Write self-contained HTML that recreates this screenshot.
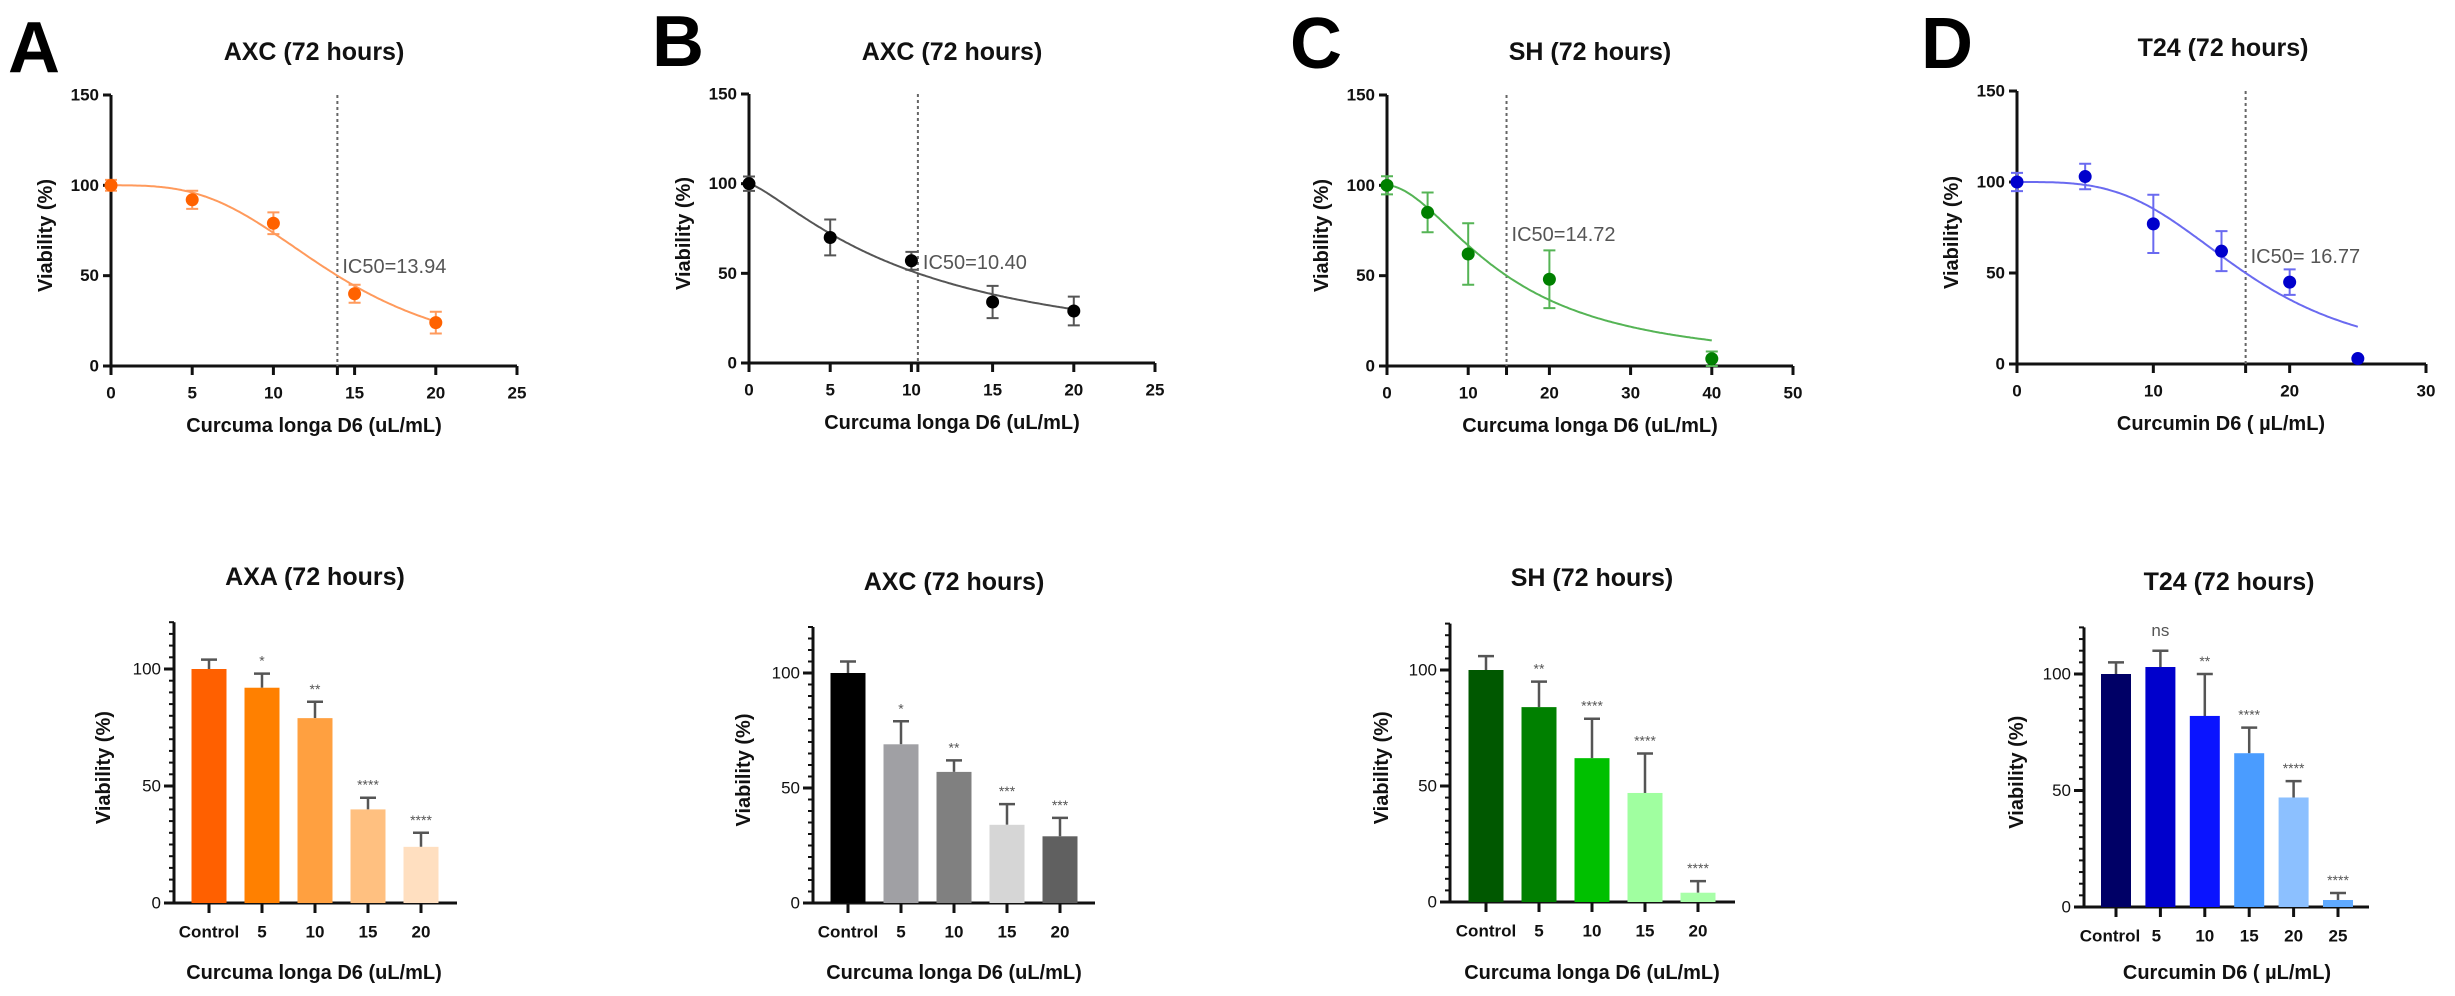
<!DOCTYPE html>
<html><head><meta charset="utf-8">
<style>
html,body{margin:0;padding:0;background:#fff;}
svg{display:block;font-family:"Liberation Sans",Arial,sans-serif;}
</style></head>
<body>
<svg id="fig" width="2455" height="996" viewBox="0 0 2455 996" xmlns="http://www.w3.org/2000/svg"></svg>
<script>
// ---------- data: dose-response panels ----------
const aDose = [0, 5, 10, 15, 20];
const aViab = [100, 92, 79, 40, 24];
const aErr  = [3, 5, 6, 5, 6];
const aIC50 = 13.94, aHill = 3.1;

const bDose = [0, 5, 10, 15, 20];
const bViab = [100, 70, 57, 34, 29];
const bErr  = [4, 10, 5, 9, 8];
const bIC50 = 10.40, bHill = 1.3;

const cDose = [0, 5, 10, 20, 40];
const cViab = [100, 85, 62, 48, 4];
const cErr  = [5, 11, 17, 16, 4];
const cIC50 = 14.72, cHill = 1.8;

const dDose = [0, 5, 10, 15, 20, 25];
const dViab = [100, 103, 77, 62, 45, 3];
const dErr  = [5, 7, 16, 11, 7, 0];
const dIC50 = 16.77, dHill = 3.4;

// ---------- data: bar panels ----------
const barCatsA = ["Control", "5", "10", "15", "20"];
const barValsA = [100, 92, 79, 40, 24];
const barErrA  = [4, 6, 7, 5, 6];
const barSigA  = ["", "*", "**", "****", "****"];

const barCatsB = ["Control", "5", "10", "15", "20"];
const barValsB = [100, 69, 57, 34, 29];
const barErrB  = [5, 10, 5, 9, 8];
const barSigB  = ["", "*", "**", "***", "***"];

const barCatsC = ["Control", "5", "10", "15", "20"];
const barValsC = [100, 84, 62, 47, 4];
const barErrC  = [6, 11, 17, 17, 5];
const barSigC  = ["", "**", "****", "****", "****"];

const barCatsD = ["Control", "5", "10", "15", "20", "25"];
const barValsD = [100, 103, 82, 66, 47, 3];
const barErrD  = [5, 7, 18, 11, 7, 3];
const barSigD  = ["", "ns", "**", "****", "****", "****"];

const NS = "http://www.w3.org/2000/svg";
const svg = document.getElementById("fig");
function el(tag, attrs, parent, text) {
  const e = document.createElementNS(NS, tag);
  for (const k in attrs) e.setAttribute(k, attrs[k]);
  if (text !== undefined) e.textContent = text;
  (parent || svg).appendChild(e);
  return e;
}

function txt(x, y, s, size, weight, anchor, fill, parent, name) {
  const t = el("text", {x: x, y: y, "font-size": size, "font-weight": weight, "text-anchor": anchor, fill: fill, "dominant-baseline": "central"}, parent, s);
  
  
  return t;
}

function curvePanel(o) {
  const g = el("g", {});
  
  
  const sx = v => o.x0 + (v - 0) / o.xmax * (o.x1 - o.x0);
  const sy = v => o.y0 - v / 150 * (o.y0 - o.y1);
  txt(o.letterX, o.letterY, o.letter, 72, "bold", "start", "#000", g, "panel-letter");
  txt(o.titleX, o.titleY, o.title, 25, "bold", "middle", "#111", g, "chart-title");
  // axes
  const ya = el("line", {x1: o.x0, y1: o.y0 + 1.5, x2: o.x0, y2: o.y1, stroke: "#111", "stroke-width": 3}, g);
  
  
  const xa = el("line", {x1: o.x0 - 8, y1: o.y0, x2: o.x1, y2: o.y0, stroke: "#111", "stroke-width": 3}, g);
  
  
  [0, 50, 100, 150].forEach(v => {
    el("line", {x1: o.x0 - 8, y1: sy(v), x2: o.x0, y2: sy(v), stroke: "#111", "stroke-width": 3}, g);
    txt(o.x0 - 12, sy(v), String(v), 17, "bold", "end", "#111", g, "y-tick-label");
  });
  o.xticks.forEach(v => {
    el("line", {x1: sx(v), y1: o.y0, x2: sx(v), y2: o.y0 + 9, stroke: "#111", "stroke-width": 3}, g);
    txt(sx(v), o.y0 + 27, String(v), 17, "bold", "middle", "#111", g, "x-tick-label");
  });
  el("line", {x1: sx(o.ic50), y1: o.y0 + 9, x2: sx(o.ic50), y2: o.y0, stroke: "#111", "stroke-width": 3}, g);
  const yl = txt(0, 0, "Viability (%)", 20, "bold", "middle", "#111", g, "y-axis-title");
  yl.setAttribute("transform", "translate(" + o.ylabX + "," + ((o.y0 + o.y1) / 2 + 5) + ") rotate(-90)");
  txt(o.xlabX, o.y0 + 60, o.xlabel, 20, "bold", "middle", "#111", g, "x-axis-title");
  // IC50 line
  const ic = el("line", {x1: sx(o.ic50), y1: o.y1, x2: sx(o.ic50), y2: o.y0, stroke: "#666", "stroke-width": 2, "stroke-dasharray": "3,3"}, g);
  
  
  txt(sx(o.ic50) + 5, o.icY, o.icText, 20, "normal", "start", "#555", g, "ic50-label");
  // fit curve
  let d = "";
  const xe = o.dose[o.dose.length - 1];
  for (let i = 0; i <= 200; i++) {
    const x = xe * i / 200;
    const y = 100 / (1 + Math.pow(x / o.ic50, o.hill));
    d += (i ? "L" : "M") + sx(x).toFixed(1) + "," + sy(y).toFixed(1);
  }
  const c = el("path", {d: d, fill: "none", stroke: o.lineColor, "stroke-width": 2}, g);
  
  
  o.dose.forEach((x, i) => {
    const v = o.viab[i], e = o.err[i];
    if (e > 0) {
      el("path", {d: "M" + sx(x) + "," + sy(v - e) + "V" + sy(v + e) + "M" + (sx(x) - 6) + "," + sy(v - e) + "h12M" + (sx(x) - 6) + "," + sy(v + e) + "h12", stroke: o.lineColor, "stroke-width": 2, fill: "none"}, g);
    }
    const p = el("circle", {cx: sx(x), cy: sy(v), r: 6.5, fill: o.pointColor}, g);
    
    
  });
}

function barPanel(o) {
  const g = el("g", {});
  
  
  const sy = v => o.y0 - v / 100 * (o.y0 - o.y100);
  const sx = i => o.c0 + i * o.step;
  txt(o.titleX, o.titleY, o.title, 25, "bold", "middle", "#111", g, "chart-title");
  const ya = el("line", {x1: o.x0, y1: o.y0 + 1.5, x2: o.x0, y2: sy(120), stroke: "#111", "stroke-width": 3}, g);
  
  
  const xa = el("line", {x1: o.x0 - 10, y1: o.y0, x2: o.x1, y2: o.y0, stroke: "#111", "stroke-width": 3}, g);
  
  
  for (let v = 0; v <= 120; v += 5) {
    const major = v % 50 === 0;
    el("line", {x1: o.x0 - (major ? 10 : 5), y1: sy(v), x2: o.x0, y2: sy(v), stroke: "#111", "stroke-width": major ? 3 : 2}, g);
    if (major && v <= 100) txt(o.x0 - 13, sy(v), String(v), 17, "normal", "end", "#111", g, "y-tick-label");
  }
  const yl = txt(0, 0, "Viability (%)", 20, "bold", "middle", "#111", g, "y-axis-title");
  yl.setAttribute("transform", "translate(" + o.ylabX + "," + ((o.y0 + sy(120)) / 2 + 5) + ") rotate(-90)");
  txt(o.xlabX, 973, o.xlabel, 20, "bold", "middle", "#111", g, "x-axis-title");
  o.cats.forEach((c, i) => {
    const x = sx(i), v = o.vals[i], e = o.errs[i];
    el("line", {x1: x, y1: o.y0, x2: x, y2: o.y0 + 10, stroke: "#111", "stroke-width": 3}, g);
    txt(x + (o.labShift[i] || 0), o.y0 + 29, c, 17, "bold", "middle", "#111", g, "x-tick-label");
    el("path", {d: "M" + x + "," + sy(v) + "V" + sy(v + e) + "M" + (x - 8) + "," + sy(v + e) + "h16", stroke: "#555", "stroke-width": 2.5, fill: "none"}, g);
    const b = el("rect", {x: x - o.bw / 2, y: sy(v), width: o.bw, height: o.y0 - sy(v), fill: o.colors[i]}, g);
    
    
    if (o.sig[i]) {
      const isNs = o.sig[i] === "ns";
      txt(x, sy(v + e) - (isNs ? 20 : 13), o.sig[i], isNs ? 17 : 14, "normal", "middle", "#555", g, "significance-label");
    }
  });
}

curvePanel({name: "panel-a-curve", letter: "A", letterX: 8, letterY: 48, title: "AXC (72 hours)", titleX: 314, titleY: 52,
  x0: 111, x1: 517, xmax: 25, y0: 366, y1: 95, xticks: [0, 5, 10, 15, 20, 25], ylabX: 46, xlabX: 314, xlabel: "Curcuma longa D6 (uL/mL)",
  dose: aDose, viab: aViab, err: aErr, ic50: aIC50, hill: aHill, icText: "IC50=13.94", icY: 267, lineColor: "#ff9a5c", pointColor: "#ff6200"});
curvePanel({name: "panel-b-curve", letter: "B", letterX: 652, letterY: 42, title: "AXC (72 hours)", titleX: 952, titleY: 52,
  x0: 749, x1: 1155, xmax: 25, y0: 363, y1: 94, xticks: [0, 5, 10, 15, 20, 25], ylabX: 684, xlabX: 952, xlabel: "Curcuma longa D6 (uL/mL)",
  dose: bDose, viab: bViab, err: bErr, ic50: bIC50, hill: bHill, icText: "IC50=10.40", icY: 263, lineColor: "#555", pointColor: "#000"});
curvePanel({name: "panel-c-curve", letter: "C", letterX: 1290, letterY: 44, title: "SH (72 hours)", titleX: 1590, titleY: 52,
  x0: 1387, x1: 1793, xmax: 50, y0: 366, y1: 95, xticks: [0, 10, 20, 30, 40, 50], ylabX: 1322, xlabX: 1590, xlabel: "Curcuma longa D6 (uL/mL)",
  dose: cDose, viab: cViab, err: cErr, ic50: cIC50, hill: cHill, icText: "IC50=14.72", icY: 235, lineColor: "#55b455", pointColor: "#008000"});
curvePanel({name: "panel-d-curve", letter: "D", letterX: 1921, letterY: 44, title: "T24 (72 hours)", titleX: 2223, titleY: 48,
  x0: 2017, x1: 2426, xmax: 30, y0: 364, y1: 91, xticks: [0, 10, 20, 30], ylabX: 1952, xlabX: 2221, xlabel: "Curcumin D6 ( µL/mL)",
  dose: dDose, viab: dViab, err: dErr, ic50: dIC50, hill: dHill, icText: "IC50= 16.77", icY: 257, lineColor: "#6a6af0", pointColor: "#0000cc"});

barPanel({name: "panel-a-bars", title: "AXA (72 hours)", titleX: 315, titleY: 577, x0: 174, x1: 457, y0: 903, y100: 669,
  c0: 209, step: 53, bw: 35, ylabX: 104, xlabX: 314, xlabel: "Curcuma longa D6 (uL/mL)", labShift: [0, 0, 0, 0, 0],
  cats: barCatsA, vals: barValsA, errs: barErrA, sig: barSigA, colors: ["#ff6000", "#ff8000", "#ffa040", "#ffc080", "#ffdfc0"]});
barPanel({name: "panel-b-bars", title: "AXC (72 hours)", titleX: 954, titleY: 582, x0: 813, x1: 1095, y0: 903, y100: 673,
  c0: 848, step: 53, bw: 35, ylabX: 744, xlabX: 954, xlabel: "Curcuma longa D6 (uL/mL)", labShift: [0, 0, 0, 0, 0],
  cats: barCatsB, vals: barValsB, errs: barErrB, sig: barSigB, colors: ["#000000", "#a0a0a4", "#808080", "#d6d6d6", "#606060"]});
barPanel({name: "panel-c-bars", title: "SH (72 hours)", titleX: 1592, titleY: 578, x0: 1450, x1: 1735, y0: 902, y100: 670,
  c0: 1486, step: 53, bw: 35, ylabX: 1382, xlabX: 1592, xlabel: "Curcuma longa D6 (uL/mL)", labShift: [0, 0, 0, 0, 0],
  cats: barCatsC, vals: barValsC, errs: barErrC, sig: barSigC, colors: ["#005800", "#008000", "#00c000", "#a0ffa0", "#a8ffa8"]});
barPanel({name: "panel-d-bars", title: "T24 (72 hours)", titleX: 2229, titleY: 582, x0: 2084, x1: 2369, y0: 907, y100: 674,
  c0: 2116, step: 44.4, bw: 30, ylabX: 2017, xlabX: 2227, xlabel: "Curcumin D6 ( µL/mL)", labShift: [-6, -4, 0, 0, 0, 0],
  cats: barCatsD, vals: barValsD, errs: barErrD, sig: barSigD, colors: ["#000066", "#0000cc", "#0a14ff", "#4a9cff", "#8cc0ff", "#60aaff"]});
</script>
</body></html>
